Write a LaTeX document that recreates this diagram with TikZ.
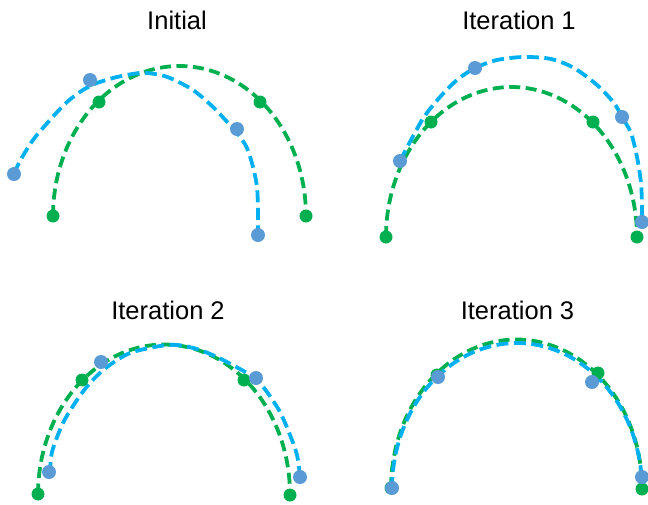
\documentclass[tikz,border=0pt]{standalone}
\usepackage{fontspec}
\setmainfont{Liberation Sans}
\definecolor{curveblue}{HTML}{00B0F0}
\definecolor{dotblue}{HTML}{5B9BD5}
\definecolor{curvegreen}{HTML}{00B050}
\begin{document}
\begin{tikzpicture}[x=1pt,y=-1pt,
  paneltitle/.style={font=\fontsize{25.5}{30}\selectfont, anchor=base, inner sep=0pt},
  greencurve/.style={draw=curvegreen, line width=3.8pt, dash pattern=on 11pt off 5.5pt},
  bluecurve/.style={draw=curveblue, line width=3.8pt, dash pattern=on 12pt off 5.5pt},
  gdot/.style={fill=curvegreen},
  bdot/.style={fill=dotblue},
]
\useasboundingbox (0,0) rectangle (648,504);

% ---------- Initial ----------
\node[paneltitle] (t0) at (177,29) {Initial};
\draw[greencurve] plot[domain=180:360, samples=90, variable=\t]
  ({179.5+126.5*cos(\t)},{216+150*sin(\t)});
\draw[bluecurve] plot[smooth, tension=0.5] coordinates {
  (14,174) (20,161) (33,140) (50,120) (67,102) (83,90) (97,83) (117,77)
  (140,73) (155,74) (170,78) (193,90) (213,107) (230,125) (238,134)
  (247,148) (253,167) (257,187) (258,210) (258,230)};
\foreach \p in {(53,216),(99,102),(260,102),(306,216)}
  \fill[gdot] \p circle[radius=6.5pt];
\foreach \p in {(14,174),(90,80),(237,129),(258,235)}
  \fill[bdot] \p circle[radius=7pt];

% ---------- Iteration 1 ----------
\node[paneltitle] (t1) at (519,29) {Iteration 1};
\draw[greencurve] plot[domain=180:360, samples=90, variable=\t]
  ({511.5+125.5*cos(\t)},{237+150*sin(\t)});
\draw[bluecurve] plot[smooth, tension=0.5] coordinates {
  (400,161) (411,140) (424,117) (440,97) (457,80) (475,68) (497,60) (524,57)
  (551,59) (574,68) (597,85) (614,103) (622,117) (631,133) (637,157)
  (641,183) (642,207) (642,224)};
\foreach \p in {(386,237),(431,122),(593,122),(637,237)}
  \fill[gdot] \p circle[radius=6.5pt];
\foreach \p in {(400,161),(475,68),(622,117),(642,222)}
  \fill[bdot] \p circle[radius=7pt];

% ---------- Iteration 2 ----------
\node[paneltitle] (t2) at (168,319.5) {Iteration 2};
\draw[greencurve] plot[domain=180:360, samples=90, variable=\t]
  ({164+126*cos(\t)},{494.5+150*sin(\t)});
\draw[bluecurve] plot[smooth, tension=0.5] coordinates {
  (50,474) (52,452) (63,423) (77,400) (90,383) (107,367) (130,353) (160,346)
  (177,345) (197,349) (217,357) (240,369) (256,379) (267,392) (280,412)
  (290,435) (297,455) (300,476)};
\foreach \p in {(38,494),(82,380),(244,380),(290,495)}
  \fill[gdot] \p circle[radius=6.5pt];
\foreach \p in {(49,472),(101,362),(256,378),(300,477)}
  \fill[bdot] \p circle[radius=7pt];

% ---------- Iteration 3 ----------
\node[paneltitle] (t3) at (517.5,319.5) {Iteration 3};
\draw[greencurve] plot[domain=180:360, samples=90, variable=\t]
  ({516.5+125.5*cos(\t)},{488.5+149*sin(\t)});
\draw[bluecurve] plot[domain=180:355, samples=90, variable=\t]
  ({517+125*cos(\t)},{489+146*sin(\t)});
\foreach \p in {(391,488),(437,375),(598,373),(642,489)}
  \fill[gdot] \p circle[radius=6.5pt];
\foreach \p in {(392,488),(438,377),(592,382),(642,477)}
  \fill[bdot] \p circle[radius=7pt];
\end{tikzpicture}
\end{document}
